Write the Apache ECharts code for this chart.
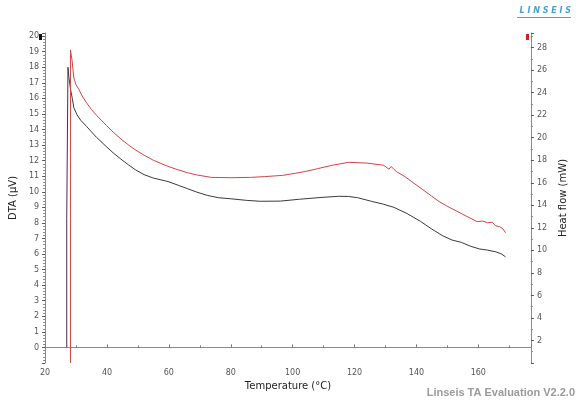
<!DOCTYPE html>
<html>
<head>
<meta charset="utf-8">
<script src="https://cdn.jsdelivr.net/npm/echarts@6/dist/echarts.min.js"></script>
<style>
  html, body { margin: 0; padding: 0; background: #fff; }
  #main { width: 576px; height: 401px; }
</style>
</head>
<body>
<div id="main"></div>
<script>
// DTA curve (black, left axis), temperature in degC / value in uV
var dtaTemp = [27.0, 27.0, 27.4, 27.7, 28.3, 28.8, 29.3, 30.3, 31.5, 33.4, 35.0, 36.6, 39.8, 42.0, 44.5, 47.0, 49.3, 52.0, 55.0,
    59.7, 63.0, 66.0, 69.0, 72.4, 76.0, 80.0, 85.0, 89.5, 96.0, 102.2, 109.5, 114.9, 118.0, 121.0, 125.4, 129.0, 132.7,
    137.0, 141.3, 145.0, 148.6, 151.5, 154.5, 157.5, 160.3, 163.0, 165.7, 167.5, 168.8];
var dtaValue = [0, 8.3, 18.0, 17.35, 16.5, 16.0, 15.4, 14.95, 14.6, 14.2, 13.85, 13.5, 12.9, 12.5, 12.1, 11.72, 11.4, 11.1, 10.88,
    10.66, 10.42, 10.2, 9.98, 9.77, 9.62, 9.55, 9.45, 9.39, 9.40, 9.52, 9.64, 9.71, 9.70, 9.62, 9.39, 9.22, 9.0,
    8.6, 8.1, 7.6, 7.16, 6.9, 6.75, 6.5, 6.33, 6.25, 6.14, 6.0, 5.82];

// Heat flow curve (red, right axis), value in mW
var hfTemp = [28.2, 28.2, 28.3, 28.7, 29.3, 30.0, 30.9, 32.0, 33.4, 35.0, 36.6, 39.8, 42.0, 44.5, 47.0, 49.3, 52.0, 55.0, 59.7,
    63.0, 66.0, 69.0, 73.7, 80.0, 86.4, 91.0, 96.8, 101.0, 104.0, 108.0, 112.7, 118.1, 124.0, 129.5, 131.1, 131.8, 133.5,
    136.0, 138.5, 141.5, 145.0, 147.5, 150.1, 155.0, 159.6, 161.5, 163.0, 164.5, 165.5, 166.9, 168.0, 168.8];
var hfValue = [0, 27.8, 27.8, 26.9, 25.3, 24.7, 24.3, 23.7, 23.1, 22.5, 22.0, 21.1, 20.5, 19.9, 19.35, 18.9, 18.45, 18.0, 17.46,
    17.15, 16.9, 16.7, 16.48, 16.45, 16.48, 16.55, 16.66, 16.85, 17.0, 17.25, 17.55, 17.82, 17.75, 17.55, 17.2, 17.45, 17.0,
    16.6, 16.1, 15.5, 14.8, 14.3, 13.9, 13.2, 12.55, 12.6, 12.45, 12.5, 12.2, 12.1, 11.9, 11.56];

var xTicks = [20, 40, 60, 80, 100, 120, 140, 160];

function pairs(xs, ys) {
    return xs.map(function (x, i) { return [x, ys[i]]; });
}

var myChart = echarts.init(document.getElementById('main'));

var axisLine = { lineStyle: { color: '#8a8a8a', width: 1 } };
var labelFont = { fontSize: 8, color: '#555', fontFamily: 'DejaVu Sans' };
var nameFont = { fontSize: 10, color: '#222', fontFamily: 'DejaVu Sans' };

option = {
    animation: false,
    backgroundColor: '#fff',
    grid: { left: 38, right: 43, top: 33, bottom: 38 },
    xAxis: {
        type: 'value',
        min: 20,
        max: 177,
        interval: 20,
        name: 'Temperature (°C)',
        nameLocation: 'middle',
        nameGap: 17,
        nameTextStyle: nameFont,
        axisLine: axisLine,
        axisTick: { inside: true, length: 3, lineStyle: { color: '#777' } },
        minorTick: { show: true, splitNumber: 2, length: 2, lineStyle: { color: '#777' } },
        axisLabel: Object.assign({
            margin: 6,
            formatter: function (v) { return xTicks.indexOf(v) >= 0 ? v : ''; }
        }, labelFont),
        splitLine: { show: false }
    },
    yAxis: [
        {
            type: 'value',
            min: -1,
            max: 20.2,
            interval: 1,
            name: 'DTA (µV)',
            nameLocation: 'middle',
            nameRotate: 90,
            nameGap: 19,
            nameTextStyle: nameFont,
            axisLine: Object.assign({ show: true }, axisLine),
            axisTick: { length: 3, lineStyle: { color: '#555' } },
            minorTick: { show: true, splitNumber: 5, length: 2, lineStyle: { color: '#888' } },
            axisLabel: Object.assign({
                margin: 6,
                formatter: function (v) { return (v >= 0 && Math.abs(v - Math.round(v)) < 1e-6) ? Math.round(v) : ''; }
            }, labelFont),
            splitLine: { show: false }
        },
        {
            type: 'value',
            position: 'right',
            min: 0,
            max: 29.3,
            interval: 2,
            name: 'Heat flow (mW)',
            nameLocation: 'middle',
            nameRotate: 90,
            nameGap: 27,
            nameTextStyle: nameFont,
            axisLine: Object.assign({ show: true }, axisLine),
            axisTick: { length: 3, lineStyle: { color: '#555' } },
            minorTick: { show: true, splitNumber: 2, length: 2, lineStyle: { color: '#888' } },
            axisLabel: Object.assign({
                margin: 6,
                formatter: function (v) { return (v > 0 && v % 2 === 0) ? v : ''; }
            }, labelFont),
            splitLine: { show: false }
        }
    ],
    series: [
        {
            name: 'DTA',
            type: 'line',
            yAxisIndex: 0,
            data: pairs(dtaTemp, dtaValue),
            symbol: 'none',
            lineStyle: { color: '#3a3a3a', width: 1 }
        },
        {
            name: 'Heat flow',
            type: 'line',
            yAxisIndex: 1,
            data: pairs(hfTemp, hfValue),
            symbol: 'none',
            lineStyle: { color: '#d04545', width: 1 }
        }
    ],
    graphic: [
        { type: 'rect', left: 39, top: 34, shape: { width: 3, height: 6 }, style: { fill: '#111' } },
        { type: 'rect', right: 47, top: 34, shape: { width: 3, height: 6 }, style: { fill: '#d02020' } },
        {
            type: 'text', right: 5, top: 7,
            style: { text: 'L I N S E I S', fill: '#4a9fd0', font: 'italic bold 8px DejaVu Sans' }
        },
        { type: 'rect', right: 5, top: 17, shape: { width: 54, height: 1 }, style: { fill: '#4a9fd0' } },
        {
            type: 'text', right: 1, bottom: 3,
            style: { text: 'Linseis TA Evaluation V2.2.0', fill: '#9a9a9a', font: 'bold 11px Liberation Sans' }
        }
    ]
};

myChart.setOption(option);
</script>
</body>
</html>
